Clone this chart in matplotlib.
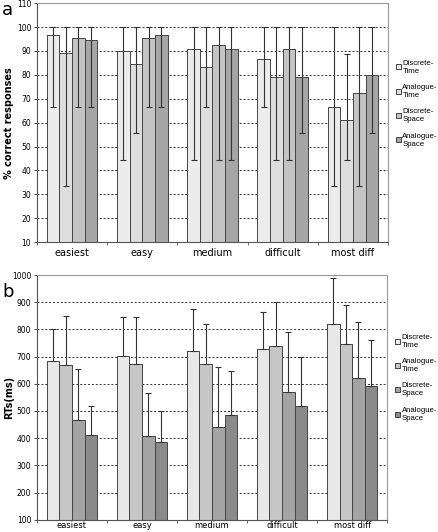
import numpy as np
import matplotlib.pyplot as plt
import matplotlib as mpl

mpl.rcParams.update({'font.family': 'DejaVu Sans', 'font.size': 7})

levels = ['easiest', 'easy', 'medium', 'difficult', 'most diff']
conditions = ['Discrete-\nTime', 'Analogue-\nTime', 'Discrete-\nSpace', 'Analogue-\nSpace']

# panel a: % correct, with lower / upper ends of the error bars
acc = [
    [96.5, 90.0, 91.0, 86.7, 66.7],   # Discrete-Time
    [89.0, 84.5, 83.3, 79.0, 61.0],   # Analogue-Time
    [95.5, 95.5, 92.3, 91.0, 72.2],   # Discrete-Space
    [94.5, 96.5, 91.0, 79.0, 80.0],   # Analogue-Space
]
acc_lo = [
    [66.7, 44.4, 44.4, 66.7, 33.3],
    [33.3, 55.6, 66.7, 44.4, 44.4],
    [66.7, 66.7, 44.4, 44.4, 33.3],
    [66.7, 66.7, 44.4, 55.6, 55.6],
]
acc_hi = [
    [100, 100, 100, 100, 100],
    [100, 100, 100, 100, 88.9],
    [100, 100, 100, 100, 100],
    [100, 100, 100, 100, 100],
]

# panel b: reaction times (ms) and upper end of the error bars
rt = [
    [685, 703, 721, 728, 821],
    [670, 673, 673, 740, 748],
    [468, 407, 440, 570, 622],
    [410, 386, 487, 518, 592],
]
rt_hi = [
    [800, 845, 876, 864, 990],
    [850, 847, 820, 900, 890],
    [655, 567, 660, 790, 826],
    [518, 500, 648, 700, 760],
]

colors_a = ['#ececec', '#dedede', '#c4c4c4', '#a6a6a6']
colors_b = ['#e8e8e8', '#c6c6c6', '#a4a4a4', '#8a8a8a']

fig = plt.figure(figsize=(4.39, 5.32), dpi=100)
ax1 = fig.add_axes([0.084, 0.545, 0.800, 0.449])
ax2 = fig.add_axes([0.084, 0.023, 0.798, 0.460])

x = np.arange(len(levels))
w = 0.18


def style(ax, ymin, ymax, step):
    ax.set_xlim(-0.5, len(levels) - 0.5)
    ax.set_ylim(ymin, ymax)
    ax.set_yticks(np.arange(ymin, ymax + 1, step))
    ax.yaxis.grid(True, linestyle=(0, (2, 2)), color='#333333', linewidth=0.7)
    ax.set_axisbelow(True)
    for s in ['top', 'right']:
        ax.spines[s].set_color('#999999')
    for s in ['left', 'bottom']:
        ax.spines[s].set_color('#555555')
    ax.set_xticks(x)
    ax.set_xticks(np.arange(-0.5, len(levels)), minor=True)
    ax.tick_params(axis='x', which='minor', length=2.5, direction='out', color='#555555')
    ax.tick_params(axis='y', labelsize=5.5, length=2.5, color='#555555', pad=1.5)


for k in range(4):
    pos = x + (k - 1.5) * w
    vals = np.array(acc[k])
    err = [vals - np.array(acc_lo[k]), np.array(acc_hi[k]) - vals]
    ax1.bar(pos, vals - 10, w, bottom=10, color=colors_a[k], edgecolor='#444444',
            linewidth=0.7, label=conditions[k], zorder=2)
    ax1.errorbar(pos, vals, yerr=err, fmt='none', ecolor='#333333', elinewidth=0.8,
                 capsize=2, capthick=0.8, zorder=3)

    vals = np.array(rt[k])
    err = [np.zeros_like(vals), np.array(rt_hi[k]) - vals]
    ax2.bar(pos, vals - 100, w, bottom=100, color=colors_b[k], edgecolor='#444444',
            linewidth=0.7, label=conditions[k], zorder=2)
    ax2.errorbar(pos, vals, yerr=err, fmt='none', ecolor='#333333', elinewidth=0.8,
                 capsize=2, capthick=0.8, zorder=3)

style(ax1, 10, 110, 10)
style(ax2, 100, 1000, 100)

ax1.set_xticklabels(levels, fontsize=7)
ax1.tick_params(axis='x', which='major', length=0, pad=4)
ax2.set_xticklabels(levels, fontsize=6)
ax2.tick_params(axis='x', which='major', length=0, pad=1)

ax1.set_ylabel('% correct responses', fontsize=7, fontweight='bold')
ax2.set_ylabel('RTs(ms)', fontsize=7, fontweight='bold')
for ax in (ax1, ax2):
    ax.yaxis.set_label_coords(-0.066, 0.5)

for ax in (ax1, ax2):
    ax.legend(loc='center left', bbox_to_anchor=(1.0, 0.58), frameon=False,
              prop={'family': 'Liberation Sans', 'size': 5.6},
              handlelength=0.6, handleheight=0.6, handletextpad=0.25, labelspacing=1.2,
              borderaxespad=0.6)

fig.text(0.005, 0.982, 'a', fontsize=13, va='center')
fig.text(0.005, 0.452, 'b', fontsize=13, va='center')

fig.savefig('out.png', dpi=100)
